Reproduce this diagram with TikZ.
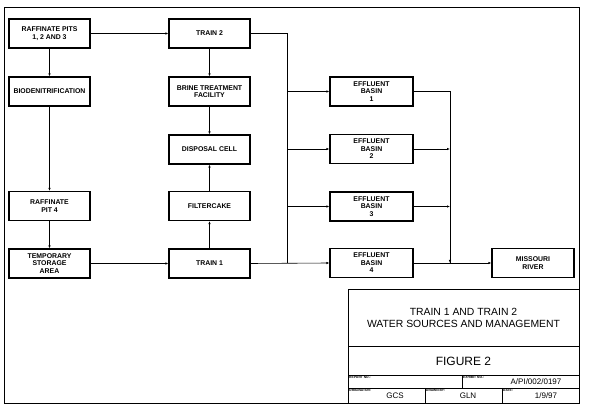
\documentclass[tikz,border=0pt]{standalone}
\usepackage{fontspec}
\setmainfont{Liberation Sans}
\usetikzlibrary{arrows.meta}

\begin{document}
\begin{tikzpicture}[x=1pt, y=-1pt,
    box/.style={draw, line width=1.1pt, minimum width=81pt, minimum height=29pt,
      align=center, inner sep=1pt, font=\fontsize{6.9}{7.4}\selectfont\bfseries},
    flow/.style={-{Latex[length=3pt,width=2.4pt]}, line width=0.6pt},
    wire/.style={line width=0.6pt},
    field/.style={anchor=north west, inner sep=1pt, font=\fontsize{3.3}{3.5}\selectfont\bfseries},
    entry/.style={inner sep=0pt, font=\fontsize{8}{9}\selectfont}]

    \useasboundingbox (0,0) rectangle (590,411);

    % sheet frame
    \draw[line width=0.7pt] (4,7) rectangle (579,403);

    % left column
    \node[box] (pits)  at (49.5,33.5)  {RAFFINATE PITS\\1, 2 AND 3};
    \node[box] (bio)   at (49.5,91.5)  {BIODENITRIFICATION};
    \node[box] (pit4)  at (49.5,206)   {RAFFINATE\\PIT 4};
    \node[box] (store) at (49.5,263.5) {TEMPORARY\\STORAGE\\AREA};

    % middle column
    \node[box] (train2)   at (209.5,33.5)  {TRAIN 2};
    \node[box] (brine)    at (209.5,91.5)  {BRINE TREATMENT\\FACILITY};
    \node[box] (disposal) at (209.5,149.5) {DISPOSAL CELL};
    \node[box] (cake)     at (209.5,206)   {FILTERCAKE};
    \node[box] (train1)   at (209.5,263.5) {TRAIN 1};

    % effluent basins
    \node[box, minimum width=83pt] (eb1) at (371.5,91.5)  {EFFLUENT\\BASIN\\1};
    \node[box, minimum width=83pt] (eb2) at (371.5,149)   {EFFLUENT\\BASIN\\2};
    \node[box, minimum width=83pt] (eb3) at (371.5,206.5) {EFFLUENT\\BASIN\\3};
    \node[box, minimum width=83pt] (eb4) at (371.5,263)   {EFFLUENT\\BASIN\\4};
    \node[box, minimum width=82pt] (river) at (533,263) {MISSOURI\\RIVER};

    % bus points
    \coordinate (inTop) at (287,33.5);
    \coordinate (inBot) at (287,263.5);
    \coordinate (outTop) at (450,91.5);
    \coordinate (outBot) at (450,263);

    % flows
    \draw[flow] (pits) -- (train2);
    \draw[flow] (pits) -- (bio);
    \draw[flow] (bio) -- (pit4);
    \draw[flow] (pit4) -- (store);
    \draw[flow] (store) -- (train1);
    \draw[flow] (train2) -- (brine);
    \draw[flow] (brine) -- (disposal);
    \draw[flow] (train1) -- (cake);
    \draw[flow] (cake) -- (disposal);

    % to the basins
    \draw[wire] (train2.east) -- (inTop) -- (inBot);
    \draw[flow] (train1.east) -- (eb4.west);
    \draw[flow] (eb1.west -| inTop) -- (eb1.west);
    \draw[flow] (eb2.west -| inTop) -- (eb2.west);
    \draw[flow] (eb3.west -| inTop) -- (eb3.west);

    % out of the basins
    \draw[wire] (eb1.east) -- (outTop) -- (outBot);
    \draw[flow] (eb2.east) -- (eb2.east -| outTop);
    \draw[flow] (eb3.east) -- (eb3.east -| outTop);
    \draw[flow] (outTop |- eb3.east) -- (outBot);
    \draw[wire] (eb4.east) -- (outBot);
    \draw[flow] (outBot) -- (river.west);

    % title block
    \draw[line width=0.8pt] (348,289) rectangle (579,403);
    \draw[line width=0.8pt] (348,346) -- (579,346);
    \draw[line width=0.8pt] (348,375) -- (579,375);
    \draw[line width=0.8pt] (348,388) -- (579,388);
    \draw[line width=0.8pt] (462,375) -- (462,388);
    \draw[line width=0.8pt] (425,388) -- (425,403);
    \draw[line width=0.8pt] (502,388) -- (502,403);

    \node[align=center, font=\fontsize{10.4}{11.5}\selectfont] (title) at (463.5,318)
      {TRAIN 1 AND TRAIN 2\\WATER SOURCES AND MANAGEMENT};
    \node[font=\fontsize{12}{13}\selectfont] (fig) at (463.5,361) {FIGURE 2};

    \node[field] (rep)  at (348,375) {REPORT NO.:};
    \node[field] (exh)  at (462,375) {EXHIBIT NO.:};
    \node[field] (orig) at (348,388) {ORIGINATOR:};
    \node[field] (drwn) at (425,388) {DRAWN BY:};
    \node[field] (date) at (502,388) {DATE:};

    \node[entry] (exhv)  at (536,382) {A/PI/002/0197};
    \node[entry] (origv) at (395,396) {GCS};
    \node[entry] (drwnv) at (468,396) {GLN};
    \node[entry] (datev) at (546,396) {1/9/97};

\end{tikzpicture}
\end{document}
